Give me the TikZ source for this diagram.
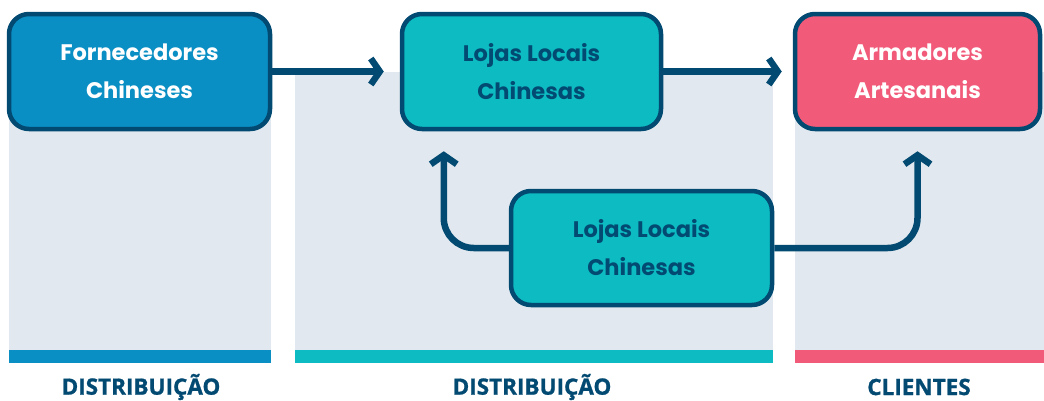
\documentclass[tikz,border=0pt]{standalone}
\usepackage{fontspec}
\setmainfont{Poppins}
\newfontfamily\labelfont{Open Sans}[BoldFeatures={FakeBold=1}]
\usetikzlibrary{arrows.meta}
\definecolor{navy}{HTML}{034A72}
\definecolor{blueA}{HTML}{0A8FC4}
\definecolor{tealA}{HTML}{0CBCC2}
\definecolor{pinkA}{HTML}{F25A7A}
\definecolor{panelgray}{HTML}{E1E8EF}
\tikzset{
  stage/.style={draw=navy, line width=4.5pt, rounded corners=20pt,
    align=center, font=\fontsize{22.5}{38}\selectfont\bfseries,
    inner sep=0pt},
  flow/.style={navy, line width=6.5pt, rounded corners=30pt,
    -{Straight Barb[length=9pt,width=26pt]}},
  panel/.style={fill=panelgray, draw=none},
  stagelabel/.style={navy, font=\labelfont\fontsize{22.5}{22.5}\selectfont\bfseries}
}

\begin{document}
\begin{tikzpicture}[x=1pt,y=-1pt]
\useasboundingbox (0,0) rectangle (1044,400);

%%%%%%%%%%%%%%%%%%%%%%%%%%%%%%%%%%%%%%%%%%%%%%%%%%%%%%%%%%%%%% panels
\fill[panel] (9,72) rectangle (271,363);
\fill[panel] (295,72) rectangle (773,363);
\fill[panel] (795,72) rectangle (1044,363);
\fill[blueA] (9,350) rectangle (271,363);
\fill[tealA] (295,350) rectangle (773,363);
\fill[pinkA] (795,350) rectangle (1044,363);

\node[stagelabel] (lab1) at (141,387) {DISTRIBUIÇÃO};
\node[stagelabel] (lab2) at (532,387) {DISTRIBUIÇÃO};
\node[stagelabel] (lab3) at (919,387) {CLIENTES};

%%%%%%%%%%%%%%%%%%%%%%%%%%%%%%%%%%%%%%%%%%%%%%%%%%%%%%%%%%%%%% stages
\node[stage, fill=blueA, text=white, minimum width=261pt, minimum height=115pt]
  (forn) at (139.5,71.5) {Fornecedores\\Chineses};
\node[stage, fill=tealA, text=navy, minimum width=259pt, minimum height=115pt]
  (lojas) at (531.5,71.5) {Lojas Locais\\Chinesas};
\node[stage, fill=pinkA, text=white, minimum width=245pt, minimum height=115pt]
  (arm) at (917.5,71.5) {Armadores\\Artesanais};
\node[stage, fill=tealA, text=navy, minimum width=261pt, minimum height=114pt]
  (lojasb) at (641.5,248) {Lojas Locais\\Chinesas};

%%%%%%%%%%%%%%%%%%%%%%%%%%%%%%%%%%%%%%%%%%%%%%%%%%%%%%%%%%%%%% flows
\draw[flow] (forn.east) -- ([xshift=-16pt]lojas.west);
\draw[flow] (lojas.east) -- ([xshift=-11pt]arm.west);
\draw[flow, shorten >=20pt] (lojasb.west) -| ([xshift=44pt]lojas.south west);
\draw[flow, shorten >=20pt] (lojasb.east) -| (arm.south);

\end{tikzpicture}
\end{document}
